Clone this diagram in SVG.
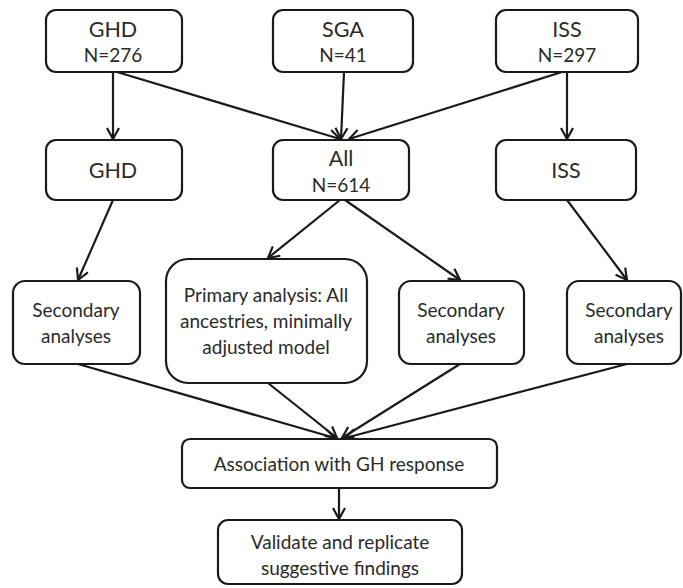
<svg xmlns="http://www.w3.org/2000/svg" width="683" height="588" viewBox="0 0 683 588">
<style>
.box{fill:#fff;stroke:#1a1a1a;stroke-width:2.2}
.t{font-family:Lato,"Open Sans",sans-serif;font-size:19px;fill:#2a2a2a;text-anchor:middle}
.h{font-size:21.5px}
.c{stroke:#1a1a1a;stroke-width:2.2;fill:none;marker-end:url(#ah)}
</style>
<defs>
<marker id="ah" markerUnits="userSpaceOnUse" markerWidth="16" markerHeight="16" viewBox="0 0 16 16" refX="13" refY="8" orient="auto">
<path d="M2,2 L13,8 L2,14" fill="none" stroke="#1a1a1a" stroke-width="2.2"/>
</marker>
</defs>
<rect width="683" height="588" fill="#fff"/>
<g id="connectors">
<line class="c" x1="113" y1="72" x2="113" y2="139"/>
<line class="c" x1="117" y1="72" x2="340" y2="139"/>
<line class="c" x1="344" y1="72" x2="341" y2="139"/>
<line class="c" x1="562" y1="72" x2="349" y2="139"/>
<line class="c" x1="567" y1="72" x2="567" y2="139"/>
<line class="c" x1="113" y1="200" x2="78" y2="280"/>
<line class="c" x1="340" y1="200" x2="268" y2="258"/>
<line class="c" x1="345" y1="200" x2="460" y2="280"/>
<line class="c" x1="567" y1="200" x2="627" y2="280"/>
<line class="c" x1="78" y1="364" x2="335" y2="438"/>
<line class="c" x1="268" y1="383" x2="337" y2="438"/>
<line class="c" x1="460" y1="364" x2="342" y2="438"/>
<line class="c" x1="627" y1="364" x2="345" y2="438"/>
<line class="c" x1="339" y1="488" x2="339" y2="519"/>
</g>
<g id="ghd-top"><rect class="box" x="46" y="10" width="136" height="62" rx="10"/><text class="t h" x="113" y="37">GHD</text><text class="t" x="113" y="62">N=276</text></g>
<g id="sga-top"><rect class="box" x="273" y="10" width="140" height="62" rx="10"/><text class="t h" x="343" y="37">SGA</text><text class="t" x="343" y="62">N=41</text></g>
<g id="iss-top"><rect class="box" x="496" y="10" width="142" height="62" rx="10"/><text class="t h" x="567" y="37">ISS</text><text class="t" x="567" y="62">N=297</text></g>
<g id="ghd"><rect class="box" x="46" y="140" width="136" height="60" rx="10"/><text class="t h" x="113" y="178">GHD</text></g>
<g id="all"><rect class="box" x="273" y="140" width="136" height="60" rx="10"/><text class="t h" x="341" y="166">All</text><text class="t" x="341" y="192">N=614</text></g>
<g id="iss"><rect class="box" x="496" y="140" width="140" height="60" rx="10"/><text class="t h" x="566" y="178">ISS</text></g>
<g id="sec-left"><rect class="box" x="13" y="281" width="127" height="83" rx="12"/><text class="t" x="76" y="317">Secondary</text><text class="t" x="76" y="343">analyses</text></g>
<g id="primary"><rect class="box" x="166" y="259" width="201" height="124" rx="22"/><text class="t" x="266" y="302">Primary analysis: All</text><text class="t" x="266" y="328">ancestries, minimally</text><text class="t" x="266" y="354">adjusted model</text></g>
<g id="sec-mid"><rect class="box" x="399" y="281" width="125" height="83" rx="12"/><text class="t" x="461" y="317">Secondary</text><text class="t" x="461" y="343">analyses</text></g>
<g id="sec-right"><rect class="box" x="567" y="281" width="114" height="83" rx="12"/><text class="t" x="629" y="317">Secondary</text><text class="t" x="629" y="343">analyses</text></g>
<g id="assoc"><rect class="box" x="182" y="439" width="315" height="49" rx="8"/><text class="t" x="339" y="471">Association with GH response</text></g>
<g id="validate"><rect class="box" x="218" y="520" width="244" height="64" rx="10"/><text class="t" x="340" y="549">Validate and replicate</text><text class="t" x="340" y="575">suggestive findings</text></g>
</svg>
